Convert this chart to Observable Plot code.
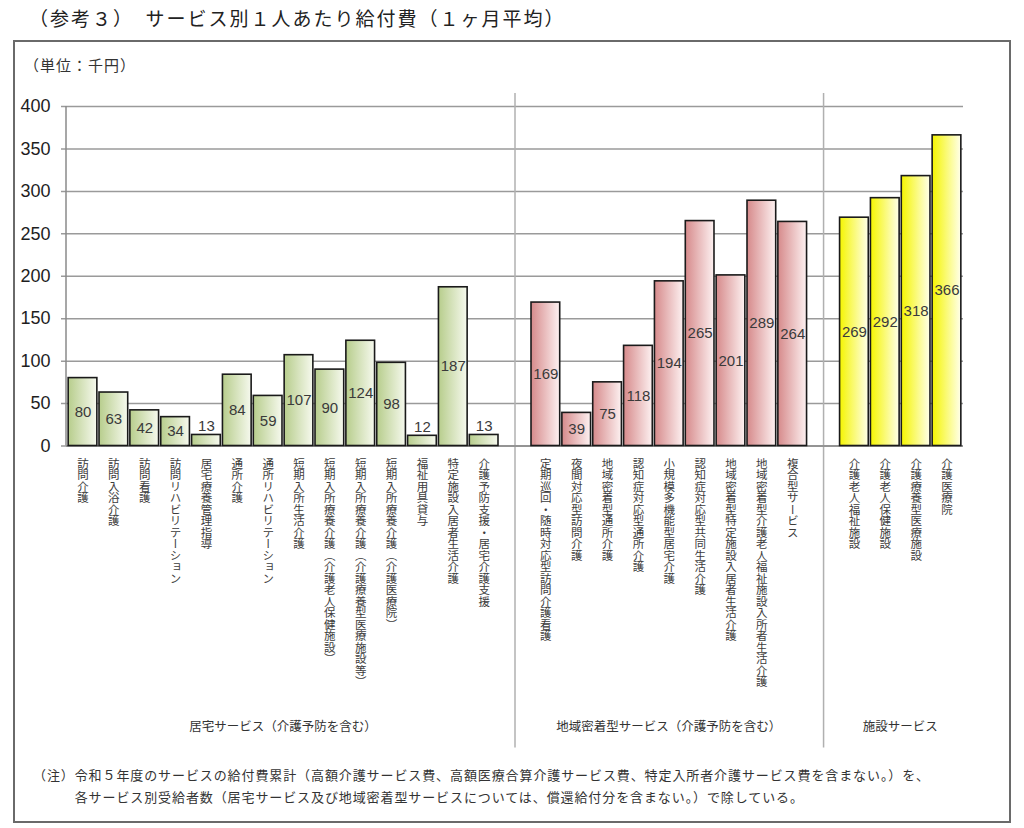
<!DOCTYPE html>
<html><head><meta charset="utf-8">
<script src="https://cdn.jsdelivr.net/npm/d3@7"></script>
<script src="https://cdn.jsdelivr.net/npm/@observablehq/plot@0.6"></script>
<style>
body{margin:0;background:#fff;font-family:"Noto Sans CJK JP","Noto Sans",sans-serif;color:#222;}
#page{position:relative;width:1024px;height:828px;overflow:hidden;}
#frame{position:absolute;left:13px;top:40px;width:998px;height:783px;border:2px solid #6a6a6a;box-sizing:border-box;}
#title{position:absolute;left:29px;top:4px;font-size:19px;letter-spacing:2px;line-height:28px;color:#222;white-space:pre;}
#unit{position:absolute;left:24px;top:54px;font-size:15px;letter-spacing:1px;line-height:22px;color:#333;white-space:pre;}
#chart{position:absolute;left:0;top:0;}
#note{position:absolute;left:33px;top:764px;font-size:13px;letter-spacing:0.9px;line-height:22px;color:#333;white-space:pre;}
</style></head>
<body>
<div id="page">
  <div id="frame"></div>
  <div id="chart"></div>
  <div id="title"></div>
  <div id="unit"></div>
  <div id="note"></div>
</div>
<script>
// ---- data ----
const titleText = "（参考３）　サービス別１人あたり給付費（１ヶ月平均）";
const unitText = "（単位：千円）";
const noteLines = [
  "（注）令和５年度のサービスの給付費累計（高額介護サービス費、高額医療合算介護サービス費、特定入所者介護サービス費を含まない。）を、",
  "　　　各サービス別受給者数（居宅サービス及び地域密着型サービスについては、償還給付分を含まない。）で除している。"
];
const groupNames = ["居宅サービス（介護予防を含む）", "地域密着型サービス（介護予防を含む）", "施設サービス"];
const homeServices = ["訪問介護","訪問入浴介護","訪問看護","訪問リハビリテーション","居宅療養管理指導","通所介護","通所リハビリテーション","短期入所生活介護","短期入所療養介護（介護老人保健施設）","短期入所療養介護（介護療養型医療施設等）","短期入所療養介護（介護医療院）","福祉用具貸与","特定施設入居者生活介護","介護予防支援・居宅介護支援"];
const homeValues = [80,63,42,34,13,84,59,107,90,124,98,12,187,13];
const communityServices = ["定期巡回・随時対応型訪問介護看護","夜間対応型訪問介護","地域密着型通所介護","認知症対応型通所介護","小規模多機能型居宅介護","認知症対応型共同生活介護","地域密着型特定施設入居者生活介護","地域密着型介護老人福祉施設入所者生活介護","複合型サービス"];
const communityValues = [169,39,75,118,194,265,201,289,264];
const facilityServices = ["介護老人福祉施設","介護老人保健施設","介護療養型医療施設","介護医療院"];
const facilityValues = [269,292,318,366];
const yTicks = [0,50,100,150,200,250,300,350,400];

// ---- build ----
const groups = [
  {name: groupNames[0], items: homeServices, values: homeValues, grad: "gGreen"},
  {name: groupNames[1], items: communityServices, values: communityValues, grad: "gPink"},
  {name: groupNames[2], items: facilityServices, values: facilityValues, grad: "gYellow"}
];
const rows = groups.flatMap(g => g.items.map((n, i) => ({name: n, value: g.values[i], fill: `url(#${g.grad})`})));
const spacers = ["__sep1", "__sep2"];
const domain = [...homeServices, spacers[0], ...communityServices, spacers[1], ...facilityServices];

const W = 1024, H = 760, zeroY = 445.5, topY = 106;

function defs() {
  const d = d3.create("svg:defs");
  const specs = [
    ["gGreen", "#b7cd8c", "#f6f9ee"],
    ["gPink", "#d68a8b", "#fdf1f1"],
    ["gYellow", "#f5f500", "#ffffea"]
  ];
  for (const [id, a, b] of specs) {
    const lg = d.append("linearGradient").attr("id", id).attr("x1", 0).attr("x2", 1).attr("y1", 0).attr("y2", 0);
    lg.append("stop").attr("offset", "0%").attr("stop-color", a);
    lg.append("stop").attr("offset", "100%").attr("stop-color", b);
  }
  return d.node();
}

function axisLine(index, scales, values, dims) {
  const g = d3.create("svg:g");
  g.append("line")
    .attr("x1", dims.marginLeft).attr("x2", dims.marginLeft)
    .attr("y1", dims.marginTop).attr("y2", dims.height - dims.marginBottom)
    .attr("stroke", "#8a8a8a").attr("stroke-width", 1.5);
  return g.node();
}

function groupLabels(index, scales, values, dims) {
  const x = scales.x;
  const g = d3.create("svg:g")
    .attr("font-family", '"Noto Sans CJK JP", sans-serif')
    .attr("font-size", 12.5).attr("fill", "#333").attr("text-anchor", "middle");
  for (const gr of groups) {
    const x0 = x(gr.items[0]), x1 = x(gr.items[gr.items.length - 1]) + x.bandwidth();
    g.append("text").attr("x", (x0 + x1) / 2).attr("y", dims.height - 33).attr("dy", "0.35em").text(gr.name);
  }
  return g.node();
}

const chart = Plot.plot({
  width: W, height: H,
  marginLeft: 66, marginRight: W - 963, marginTop: topY, marginBottom: H - zeroY,
  style: {background: "transparent", overflow: "visible"},
  x: {domain, padding: 0.07, round: false, axis: null},
  y: {domain: [0, 400], axis: null},
  marks: [
    defs,
    Plot.gridY(yTicks, {stroke: "#9a9a9a", strokeOpacity: 1, strokeWidth: 1.5, insetLeft: -5}),
    Plot.ruleX(spacers, {x: d => d, stroke: "#b0b0b0", strokeWidth: 1.5, insetTop: -13, insetBottom: -302}),
    Plot.axisY({ticks: yTicks, label: null, tickSize: 0, tickPadding: 16, fontSize: 18, fill: "#1e1e1e", fontFamily: '"Liberation Sans", Arial, sans-serif'}),
    axisLine,
    Plot.ruleY([0], {stroke: "#8a8a8a", strokeWidth: 1.5}),
    Plot.barY(rows, {x: "name", y: "value", fill: "fill", stroke: "#1a1a1a", strokeWidth: 1.6}),
    Plot.text(rows.filter(d => d.value >= 20), {x: "name", y: d => d.value / 2, text: d => String(d.value), fontSize: 15, fill: "#3a3a3a", fontFamily: '"Liberation Sans", Arial, sans-serif'}),
    Plot.text(rows.filter(d => d.value < 20), {x: "name", y: "value", text: d => String(d.value), dy: -9, fontSize: 15, fill: "#3a3a3a", fontFamily: '"Liberation Sans", Arial, sans-serif'}),
    Plot.text(rows, {x: "name", y: () => 0, text: "name", dy: 8, textAnchor: "start", fontSize: 11.5, fill: "#3c3c3c", fontFamily: '"Noto Sans CJK JP", sans-serif'}),
    groupLabels
  ]
});

document.getElementById("chart").appendChild(chart);
const nameSet = new Set(rows.map(d => d.name));
d3.select(chart).selectAll("text").filter(function() { return nameSet.has(this.textContent); })
  .style("writing-mode", "vertical-rl").attr("dy", null);

document.getElementById("title").textContent = titleText;
document.getElementById("unit").textContent = unitText;
document.getElementById("note").textContent = noteLines.join("\n");
</script>
</body></html>
